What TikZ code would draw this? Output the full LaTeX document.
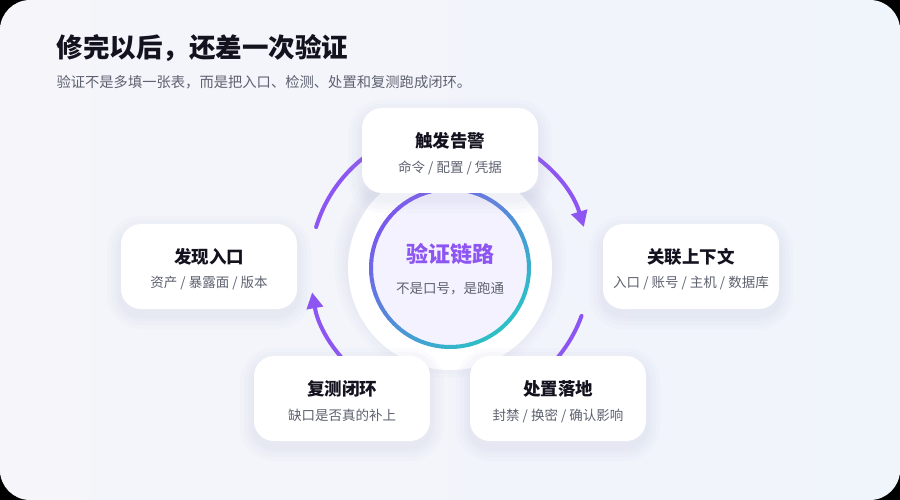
\documentclass[tikz,border=0pt]{standalone}
\usepackage{fontspec}
\setmainfont{Noto Sans CJK SC}
\usetikzlibrary{arrows.meta}
\definecolor{ink}{HTML}{14121F}
\definecolor{subgray}{HTML}{5E6270}
\definecolor{arcpurple}{HTML}{8D55F2}
\definecolor{ringA}{HTML}{7A58EE}
\definecolor{ringB}{HTML}{2CC0C6}
\definecolor{bgA}{HTML}{F5F5FA}
\definecolor{bgB}{HTML}{F0F4FB}
\definecolor{shadowc}{HTML}{9AA3C8}
\tikzset{
  card/.style={rectangle, rounded corners=20pt, fill=white, minimum width=176pt, minimum height=85pt},
  cardtitle/.style={font=\fontsize{17.5}{20}\selectfont\bfseries, text=ink},
  cardsub/.style={font=\fontsize{13.5}{15}\selectfont, text=subgray},
  loop arc/.style={draw=arcpurple, line width=4pt, line cap=round}
}
\newcommand{\softshadow}[3]{% x, y, radius growth base
  \foreach \g in {14,10,6,3}{
    \fill[shadowc, opacity=0.035, rounded corners=20pt+\g pt]
      (#1-88-\g,#2-42.5-\g+6) rectangle (#1+88+\g,#2+42.5+\g+6);
  }
}
\newcommand{\stepcard}[5]{%
  \softshadow{#2}{#3}{}
  \node[card] (#1) at (#2,#3) {};
  \node[cardtitle] (#1-t) at ([yshift=10pt]#1.center) {#4};
  \node[cardsub] (#1-s) at ([yshift=-17pt]#1.center) {#5};
}
\begin{document}
\begin{tikzpicture}[x=1pt,y=-1pt]
  % background
  \fill[black] (0,0) rectangle (900,500);
  \shade[rounded corners=30pt, left color=bgA, right color=bgB] (0,0) rectangle (900,500);
  \useasboundingbox (0,0) rectangle (900,500);

  % heading
  \node[anchor=west, font=\fontsize{26.5}{30}\selectfont\bfseries, text=ink] (title) at (53,48) {修完以后，还差一次验证};
  \node[anchor=west, font=\fontsize{14.3}{16}\selectfont, text=subgray] (subtitle) at (53,82) {验证不是多填一张表，而是把入口、检测、处置和复测跑成闭环。};

  % loop arcs
  \coordinate (hub) at (450,268);
  \draw[loop arc, -{Triangle[length=16pt,width=16pt]}] ([shift={(-163:140)}]hub) arc (-163:-17:140);
  \draw[loop arc] ([shift={(20:140)}]hub) arc (20:62:140);
  \draw[loop arc, -{Triangle[length=16pt,width=16pt]}] ([shift={(118:140)}]hub) arc (118:170:140);

  % centre disk
  \foreach \g in {14,10,6,3}{
    \fill[shadowc, opacity=0.035] ([yshift=6pt]hub) circle (102+\g);
  }
  \node[circle, fill=white, minimum size=204pt, inner sep=0pt] (disk) at (hub) {};
  \fill[color=ringA!8] (hub) circle (79);
  \foreach \a in {0,5,...,355}{
    \pgfmathsetmacro{\mix}{50+50*cos(\a+135)}
    \draw[line width=4pt, color=ringA!\mix!ringB] ([shift={(\a:79)}]hub) arc (\a:\a+5.6:79);
  }
  \node[font=\fontsize{22}{24}\selectfont\bfseries, text=arcpurple] (hub-t) at (450,254) {验证链路};
  \node[font=\fontsize{13.5}{15}\selectfont, text=subgray] (hub-s) at (450,289) {不是口号，是跑通};

  % steps
  \stepcard{alert}{450}{150.5}{触发告警}{命令 / 配置 / 凭据}
  \stepcard{context}{691}{266.5}{关联上下文}{入口 / 账号 / 主机 / 数据库}
  \stepcard{entry}{209}{266.5}{发现入口}{资产 / 暴露面 / 版本}
  \stepcard{retest}{342}{398.5}{复测闭环}{缺口是否真的补上}
  \stepcard{action}{558}{398.5}{处置落地}{封禁 / 换密 / 确认影响}
\end{tikzpicture}
\end{document}
